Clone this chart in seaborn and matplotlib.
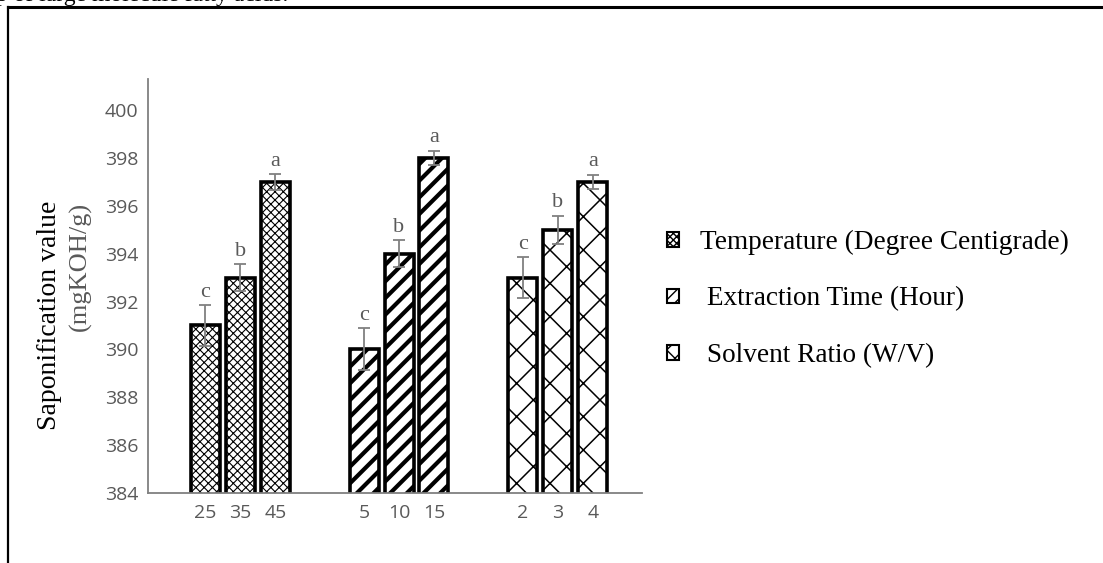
import matplotlib
matplotlib.use("Agg")
import matplotlib.pyplot as plt
import matplotlib.patches as mpatches
from matplotlib.lines import Line2D
import seaborn as sns
import pandas as pd
import numpy as np

# ---------------- data ----------------
groups = ["Temperature (Degree Centigrade)", "Extraction Time (Hour)", "Solvent Ratio (W/V)"]
legend_labels = ["Temperature (Degree Centigrade)", " Extraction Time (Hour)", " Solvent Ratio (W/V)"]
temp_levels = ["25", "35", "45"]
time_levels = ["5", "10", "15"]
ratio_levels = ["2", "3", "4"]
temp_values = [391, 393, 397]
time_values = [390, 394, 398]
ratio_values = [393, 395, 397]
temp_err = [0.85, 0.57, 0.32]
time_err = [0.88, 0.57, 0.30]
ratio_err = [0.85, 0.58, 0.30]
temp_letters = ["c", "b", "a"]
time_letters = ["c", "b", "a"]
ratio_letters = ["c", "b", "a"]
y_ticks = [384, 386, 388, 390, 392, 394, 396, 398, 400]

# ---------------- layout ----------------
group_gap = 2.54  # offset between groups, in bar slots
levels = [temp_levels, time_levels, ratio_levels]
values = [temp_values, time_values, ratio_values]
errs = [temp_err, time_err, ratio_err]
letters = [temp_letters, time_letters, ratio_letters]

rows = []
for gi, g in enumerate(groups):
    for li, lab in enumerate(levels[gi]):
        rows.append(dict(pos=gi * (2 + group_gap) + li, value=values[gi][li],
                         err=errs[gi][li], letter=letters[gi][li], label=lab, group=g))
df = pd.DataFrame(rows)

W, H = 1103, 563
fig = plt.figure(figsize=(W / 100, H / 100), dpi=100)
ax = fig.add_axes([148 / W, 1 - 493 / H, (642 - 148) / W, (493 - 79) / H])

sns.barplot(data=df, x="pos", y="value", hue="group", hue_order=groups,
            palette=["white"] * 3, native_scale=True, dodge=False, width=0.83,
            errorbar=None, edgecolor="black", linewidth=2.6, legend=False, ax=ax)

hatches = ["xxxx", "//", "x"]
hatch_lws = [0.8, 3.0, 1.1]
for p in ax.patches:
    cx = p.get_x() + p.get_width() / 2
    idx = int(np.argmin(np.abs(df["pos"].values - cx)))
    gi = groups.index(df["group"].iloc[idx])
    p.set_facecolor("white")
    p.set_edgecolor("black")
    p.set_hatch(hatches[gi])
    try:
        p.set_hatch_linewidth(hatch_lws[gi])
    except AttributeError:
        pass

ax.errorbar(df["pos"], df["value"], yerr=df["err"], fmt="none",
            ecolor="#808080", elinewidth=1.3, capsize=4.3, capthick=1.3, zorder=5)

for _, r in df.iterrows():
    ax.annotate(r["letter"], xy=(r["pos"], r["value"] + r["err"]), xytext=(0, 2.5),
                textcoords="offset points", ha="center", va="bottom",
                fontsize=16, color="#595959", family="Liberation Serif")

ax.set_ylim(384, 401.3)
ax.set_xlim(-1.64, df["pos"].max() + 1.41)
ax.set_yticks(y_ticks)
ax.set_xticks(df["pos"])
ax.set_xticklabels(df["label"])
ax.set_xlabel("")
ax.set_ylabel("")
for lab in ax.get_xticklabels() + ax.get_yticklabels():
    lab.set_family("Open Sans")
    lab.set_fontsize(14)
    lab.set_color("#595959")
ax.tick_params(axis="both", length=0)
ax.tick_params(axis="y", pad=7)
ax.tick_params(axis="x", pad=8)
for s in ["top", "right"]:
    ax.spines[s].set_visible(False)
for s in ["left", "bottom"]:
    ax.spines[s].set_color("#808080")
    ax.spines[s].set_linewidth(1.3)

# y-axis label (two lines, two colours)
fig.text(49 / W, 1 - 315 / H, "Saponification value", rotation=90, ha="center",
         va="center", fontsize=20, family="Liberation Serif", color="black")
fig.text(80 / W, 1 - 266 / H, "(mgKOH/g)", rotation=90, ha="center",
         va="center", fontsize=19, family="Liberation Serif", color="#595959")

# legend
handles = [mpatches.Patch(facecolor="white", edgecolor="black", hatch=h, linewidth=1.5,
                          label=l) for h, l in zip(["xxxxx", "///", "xx"], legend_labels)]
leg = fig.legend(handles=handles, loc="center left",
                 bbox_to_anchor=(656 / W, 1 - 299 / H), frameon=False,
                 prop=dict(family="Liberation Serif", size=19.6),
                 handlelength=0.45, handleheight=0.45, handletextpad=0.75,
                 labelspacing=1.15, borderaxespad=0)

# page frame & cut-off caption from the source document
fig.add_artist(Line2D([8 / W, 1], [1 - 7 / H, 1 - 7 / H], color="black", linewidth=2.2,
                      transform=fig.transFigure))
fig.add_artist(Line2D([8 / W, 8 / W], [0, 1 - 7 / H], color="black", linewidth=1.6,
                      transform=fig.transFigure))
fig.text(-4 / W, 1 - 1 / H, "p of large molecule fatty acids.", ha="left", va="baseline",
         fontsize=17, family="Liberation Serif", color="black")

fig.savefig("out.png", dpi=100)
